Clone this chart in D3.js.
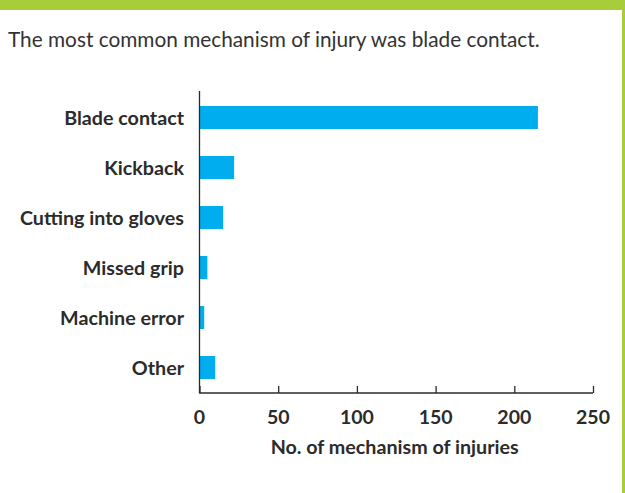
<!DOCTYPE html>
<html>
<head>
<meta charset="utf-8">
<script src="https://cdn.jsdelivr.net/npm/d3@7"></script>
<style>
  body { margin: 0; background: #fff; }
  svg { display: block; }
</style>
</head>
<body>
<div id="chart"></div>
<script>
const categories = ['Blade contact', 'Kickback', 'Cutting into gloves', 'Missed grip', 'Machine error', 'Other'];
const injuries = [215, 22, 15, 5, 3, 10];
const xTicks = [0, 50, 100, 150, 200, 250];

const W = 625, H = 493;
const green = '#a8cd3a';
const ink = '#2b2b2b';
const font = 'Lato, sans-serif';

const svg = d3.select('#chart')
  .append('svg')
  .attr('width', W)
  .attr('height', H);

// green header strip and right frame line
svg.append('rect')
  .attr('x', 0).attr('y', 0)
  .attr('width', W).attr('height', 10)
  .attr('fill', green);

svg.append('rect')
  .attr('x', 622).attr('y', 0)
  .attr('width', 3).attr('height', H)
  .attr('fill', green);

svg.append('text')
  .attr('x', 8)
  .attr('y', 47)
  .attr('font-family', font)
  .attr('font-size', 20.8)
  .attr('fill', '#333')
  .text('The most common mechanism of injury was blade contact.');

const scaleX = d3.scaleLinear()
  .domain([0, 250])
  .range([199.5, 593]);

const scaleY = d3.scaleBand()
  .domain(categories)
  .range([92.5, 392.5])
  .paddingInner(0.54)
  .paddingOuter(0.27);

// bars
svg.append('g')
  .selectAll('rect')
  .data(categories)
  .join('rect')
  .attr('x', scaleX(0))
  .attr('y', d => scaleY(d))
  .attr('width', (d, i) => scaleX(injuries[i]) - scaleX(0))
  .attr('height', scaleY.bandwidth())
  .attr('fill', '#00aeef');

// x axis, ticks pointing up
const xAxis = svg.append('g')
  .attr('transform', 'translate(0, 393)')
  .call(d3.axisBottom(scaleX).tickValues(xTicks).tickSize(-7).tickPadding(0).tickFormat(''));

xAxis.select('.domain').attr('stroke', ink).attr('stroke-width', 1.3)
  .attr('d', `M${scaleX(0)},0H${scaleX(250)}`);
xAxis.selectAll('.tick line').attr('stroke', ink).attr('stroke-width', 1.3);

svg.append('g')
  .selectAll('text')
  .data(xTicks)
  .join('text')
  .attr('x', d => scaleX(d))
  .attr('y', 424)
  .attr('text-anchor', 'middle')
  .attr('font-family', font)
  .attr('font-weight', 'bold')
  .attr('font-size', 19.5)
  .attr('fill', ink)
  .text(d => d);

svg.append('text')
  .attr('x', scaleX(124))
  .attr('y', 454)
  .attr('text-anchor', 'middle')
  .attr('font-family', font)
  .attr('font-weight', 'bold')
  .attr('font-size', 19.7)
  .attr('fill', ink)
  .text('No. of mechanism of injuries');

// y axis line and labels
svg.append('line')
  .attr('x1', scaleX(0)).attr('x2', scaleX(0))
  .attr('y1', 91).attr('y2', 393.5)
  .attr('stroke', ink)
  .attr('stroke-width', 1.3);

svg.append('g')
  .selectAll('text')
  .data(categories)
  .join('text')
  .attr('x', 184)
  .attr('y', d => scaleY(d) + scaleY.bandwidth() / 2 + 7)
  .attr('text-anchor', 'end')
  .attr('font-family', font)
  .attr('font-weight', 'bold')
  .attr('font-size', 19.7)
  .attr('fill', ink)
  .text(d => d);
</script>
</body>
</html>
